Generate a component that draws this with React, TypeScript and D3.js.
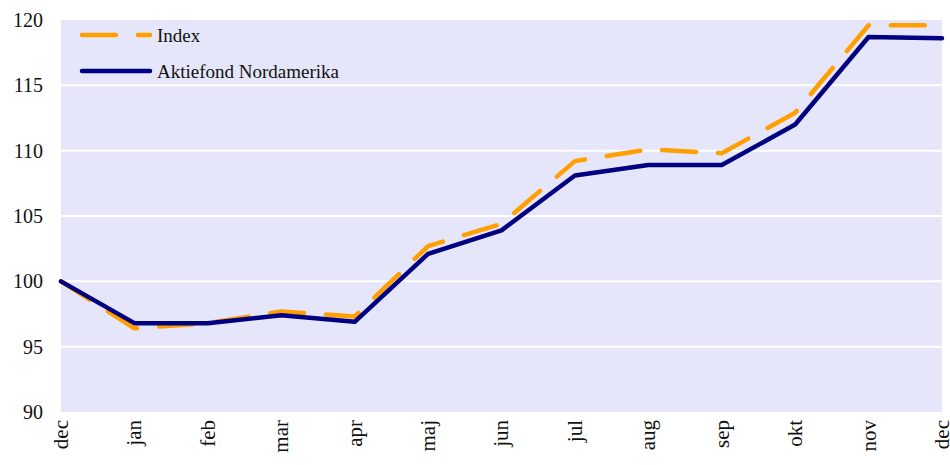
import React from 'react';
import { scaleLinear, scalePoint, line } from 'd3';

const months = ['dec', 'jan', 'feb', 'mar', 'apr', 'maj', 'jun', 'jul', 'aug', 'sep', 'okt', 'nov', 'dec2'];
const indexValues = [100, 96.4, 96.8, 97.7, 97.3, 102.7, 104.4, 109.2, 110.1, 109.8, 112.9, 119.6, 119.6];
const fundValues = [100, 96.8, 96.8, 97.4, 96.9, 102.1, 103.9, 108.1, 108.9, 108.9, 112.0, 118.7, 118.6];
const yTicks = [90, 95, 100, 105, 110, 115, 120];

const W = 950;
const H = 465;
const margin = { top: 20, right: 8, bottom: 53, left: 61 };

const App = () => {
  const x = scalePoint<string>()
    .domain(months)
    .range([margin.left, W - margin.right]);
  const y = scaleLinear()
    .domain([90, 120])
    .range([H - margin.bottom, margin.top]);

  const mkLine = line<number>()
    .x((d, i) => x(months[i]) as number)
    .y((d) => y(d));

  const font = '"Liberation Serif", "DejaVu Serif", serif';

  return (
    <svg width={W} height={H} style={{ position: 'absolute', left: 0, top: 0 }} fontFamily={font}>
      <rect x={margin.left} y={margin.top} width={W - margin.right - margin.left}
        height={H - margin.bottom - margin.top} fill='#E6E6FA' />
      {yTicks.slice(1, -1).map((t) => (
        <line key={t} x1={margin.left} x2={W - margin.right} y1={y(t)} y2={y(t)} stroke='#fff' strokeWidth={2} />
      ))}
      {yTicks.map((t) => (
        <text key={t} x={43} y={y(t)} dy='0.35em' textAnchor='end' fontSize={20} fill='#111'>{t}</text>
      ))}
      {months.map((m) => (
        <text key={m} transform={`translate(${x(m)},${H - margin.bottom + 8}) rotate(-90)`}
          textAnchor='end' dy='0.33em' fontSize={21} fill='#111'>{m.replace('2', '')}</text>
      ))}
      <path d={mkLine(indexValues) || ''} fill='none' stroke='#FF9F00' strokeWidth={4.5}
        strokeDasharray='34,22' strokeLinecap='round' strokeLinejoin='round' />
      <path d={mkLine(fundValues) || ''} fill='none' stroke='#000080' strokeWidth={4.5}
        strokeLinecap='round' strokeLinejoin='round' />
      <g>
        <line x1={82} x2={150} y1={35} y2={35} stroke='#FF9F00' strokeWidth={4.5}
          strokeDasharray='34,22' strokeLinecap='round' />
        <text x={157} y={35} dy='0.35em' fontSize={19} fill='#111'>Index</text>
        <line x1={82} x2={150} y1={71} y2={71} stroke='#000080' strokeWidth={4.5} strokeLinecap='round' />
        <text x={157} y={71} dy='0.35em' fontSize={19} fill='#111'>Aktiefond Nordamerika</text>
      </g>
    </svg>
  );
};

export default App;
